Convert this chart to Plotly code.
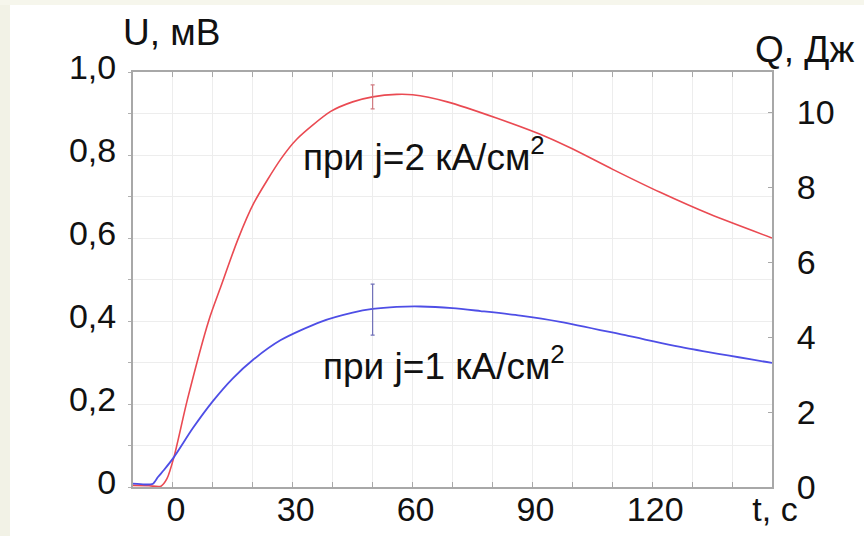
import plotly.graph_objects as go

# Red curve: j = 2 kA/cm^2
t_red = [-10, -6, -3, -1.5, 0.25, 3.6, 9, 12, 16.2, 20.3, 27, 31, 39.5, 45, 50, 56, 60,
         68.7, 81, 93.7, 100, 110, 122, 134.5, 150]
u_red = [0.004, 0.003, 0.002, 0.02, 0.072, 0.21, 0.402, 0.483, 0.595, 0.685, 0.79, 0.838,
         0.905, 0.928, 0.94, 0.946, 0.945, 0.928, 0.889, 0.843, 0.815, 0.766, 0.71, 0.657, 0.6]

# Blue curve: j = 1 kA/cm^2
t_blue = [-10, -7, -5, -3.75, -2.25, 0.25, 5, 10, 15, 20, 27, 37, 45, 50, 56, 62, 70, 77,
          87, 97, 114, 130, 150]
u_blue = [0.008, 0.006, 0.008, 0.024, 0.041, 0.072, 0.142, 0.207, 0.262, 0.306, 0.354, 0.398,
          0.42, 0.429, 0.434, 0.435, 0.431, 0.424, 0.413, 0.398, 0.364, 0.332, 0.299]

# Error bars at t = 50 s
err_t = [50]
err_red_u = [0.94]
err_red_plus = [0.029]
err_red_minus = [0.029]
err_blue_u = [0.429]
err_blue_plus = [0.060]
err_blue_minus = [0.063]

# Axis ticks
x_tickvals = list(range(-10, 151, 10))
x_ticktext = ["" if v not in (0, 30, 60, 90, 120, 150) else ("t, с" if v == 150 else str(v))
              for v in x_tickvals]
y_tickvals = [round(0.1 * i, 1) for i in range(0, 11)]
y_ticktext = ["0", "", "0,2", "", "0,4", "", "0,6", "", "0,8", "", "1,0"]
q_tickvals = [0, 2, 4, 6, 8, 10]
q_ticktext = ["0", "2", "4", "6", "8", "10"]
Q_MAX = 11.067

RED = "#ea4a52"
BLUE = "#4e4ee6"
FONT = "Liberation Sans"
L, R, T, B = 133, 92, 72, 49
PW, PH = 864 - L - R, 536 - T - B


def px(xp):
    return (xp - L) / PW


def py(yp):
    return (536 - B - yp) / PH


fig = go.Figure()
fig.add_trace(go.Scatter(x=t_red, y=u_red, mode="lines",
                         line=dict(color=RED, width=1.6, shape="spline", smoothing=0.7),
                         showlegend=False, hoverinfo="skip"))
fig.add_trace(go.Scatter(x=t_blue, y=u_blue, mode="lines",
                         line=dict(color=BLUE, width=1.8, shape="spline", smoothing=0.7),
                         showlegend=False, hoverinfo="skip"))
fig.add_trace(go.Scatter(x=err_t, y=err_red_u, mode="markers", marker=dict(size=1, color=RED),
                         error_y=dict(type="data", symmetric=False, array=err_red_plus,
                                      arrayminus=err_red_minus, color="#d07a80",
                                      thickness=1.2, width=2),
                         showlegend=False, hoverinfo="skip"))
fig.add_trace(go.Scatter(x=err_t, y=err_blue_u, mode="markers", marker=dict(size=1, color=BLUE),
                         error_y=dict(type="data", symmetric=False, array=err_blue_plus,
                                      arrayminus=err_blue_minus, color="#7070b8",
                                      thickness=1.2, width=2),
                         showlegend=False, hoverinfo="skip"))
# invisible trace to activate right axis
fig.add_trace(go.Scatter(x=[-10], y=[0], yaxis="y2", mode="markers",
                         marker=dict(size=0.1, opacity=0), showlegend=False, hoverinfo="skip"))

fig.update_layout(
    width=864, height=536,
    margin=dict(l=L, r=R, t=T, b=B),
    paper_bgcolor="white", plot_bgcolor="white",
    font=dict(family=FONT, size=34, color="#111111"),
    xaxis=dict(range=[-10, 150], tickvals=x_tickvals, ticktext=x_ticktext,
               showgrid=True, gridcolor="#ededed", gridwidth=1,
               showline=True, linecolor="#a8a8a8", linewidth=2, mirror="ticks",
               ticks="inside", ticklen=5, tickcolor="#a8a8a8", tickwidth=1,
               zeroline=False, tickfont=dict(size=34), ticklabelstandoff=-9,
               ticklabelshift=3, automargin=False),
    yaxis=dict(range=[0, 1.0], tickvals=y_tickvals, ticktext=y_ticktext,
               showgrid=True, gridcolor="#ededed", gridwidth=1,
               showline=True, linecolor="#a8a8a8", linewidth=2,
               ticks="outside", ticklen=3, tickcolor="#b0b0b0", tickwidth=1,
               zeroline=False, tickfont=dict(size=34), ticklabelstandoff=5,
               ticklabelshift=-5, automargin=False),
    yaxis2=dict(range=[0, Q_MAX], overlaying="y", side="right",
                tickvals=q_tickvals, ticktext=q_ticktext, showgrid=False,
                showline=True, linecolor="#a8a8a8", linewidth=2,
                ticks="inside", ticklen=4, tickcolor="#a8a8a8",
                zeroline=False, tickfont=dict(size=34), ticklabelstandoff=16,
                automargin=False),
    annotations=[
        dict(text="U, мВ", xref="paper", yref="paper", x=px(121), y=py(33), xanchor="left",
             yanchor="middle", showarrow=False, font=dict(size=37)),
        dict(text="Q, Дж", xref="paper", yref="paper", x=px(753), y=py(50), xanchor="left",
             yanchor="middle", showarrow=False, font=dict(size=37)),
        dict(text="при j=2 кА/см<sup>2</sup>", xref="x", yref="y", x=32.0, y=0.802,
             xanchor="left", yanchor="middle", showarrow=False, font=dict(size=37)),
        dict(text="при j=1 кА/см<sup>2</sup>", xref="x", yref="y", x=37.0, y=0.297,
             xanchor="left", yanchor="middle", showarrow=False, font=dict(size=37)),
    ],
    shapes=[
        dict(type="rect", xref="paper", yref="paper", x0=px(0), x1=px(10), y0=py(536),
             y1=py(0), fillcolor="#f2f2e6", line=dict(width=0), layer="below"),
        dict(type="rect", xref="paper", yref="paper", x0=px(0), x1=px(864), y0=py(5),
             y1=py(0), fillcolor="#f6f6ec", line=dict(width=0), layer="below"),
    ],
)

fig.write_html("out.html", config={"displayModeBar": False},
               post_script="document.body.style.margin='0';document.body.style.overflow='hidden';")
